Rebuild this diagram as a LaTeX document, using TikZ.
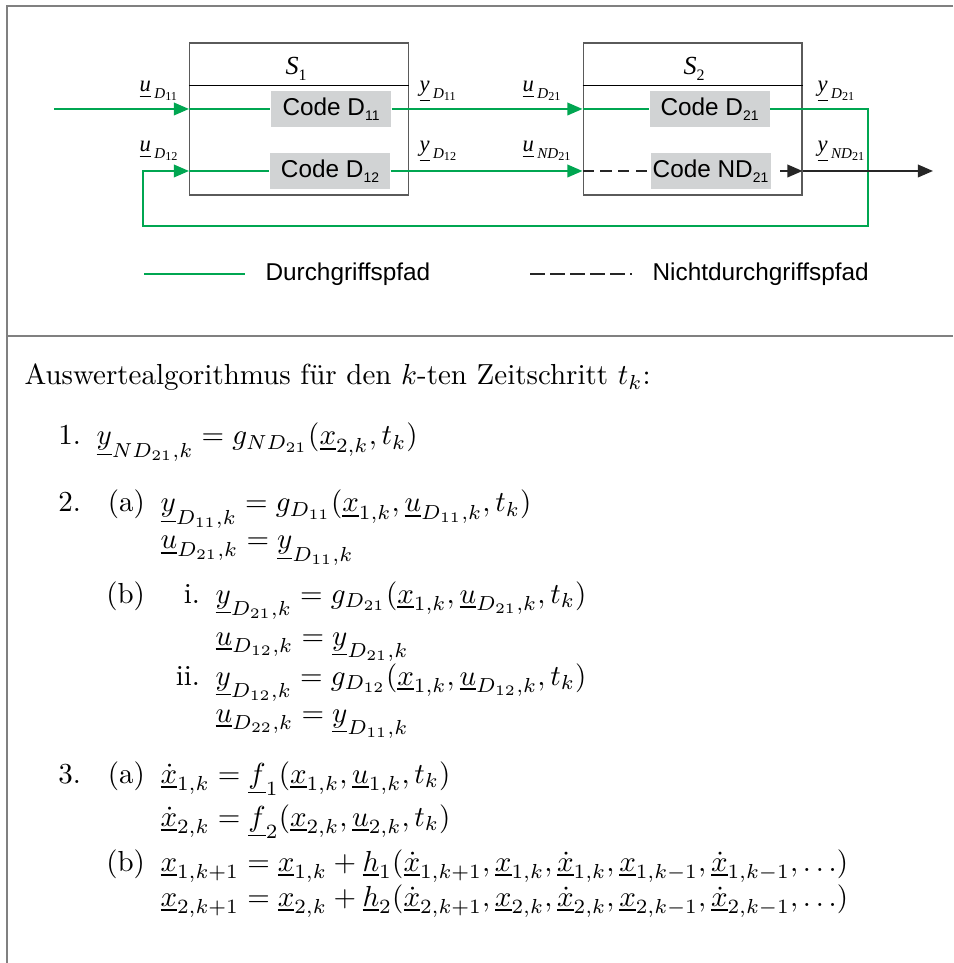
\documentclass[tikz,border=0pt]{standalone}
\usepackage{amsmath}
\usepackage{fontspec}
\newfontfamily\arialf{Liberation Sans}
\newfontfamily\timesf{Liberation Serif}
\usepackage{xcolor}
\usetikzlibrary{arrows.meta}
\definecolor{pfadgruen}{RGB}{0,166,81}
\definecolor{codegrau}{RGB}{209,211,212}
\definecolor{rahmengrau}{RGB}{128,128,128}
\definecolor{boxgrau}{RGB}{90,90,90}
\newcommand{\sig}[3]{{\timesf\fontsize{7.8}{9}\selectfont\itshape\underline{#1}\hspace{1.2pt}\raisebox{-2.3pt}{\fontsize{5.2}{6}\selectfont #2\raisebox{-0.6pt}{\fontsize{4.2}{5}\selectfont\upshape #3}}}}
\newcommand{\codetxt}[2]{Code #1\raisebox{-1.7pt}{\fontsize{4.8}{5}\selectfont #2}}
\newcommand{\syslab}[1]{{\timesf\fontsize{9}{10}\selectfont\itshape S\raisebox{-2pt}{\fontsize{5.5}{6}\selectfont\upshape #1}}}
\tikzset{
    sysbox/.style={draw=boxgrau, line width=0.5pt, minimum width=75.4pt, minimum height=52.4pt, inner sep=0pt},
    codebox/.style={fill=codegrau, minimum width=41.4pt, minimum height=12.2pt, inner sep=0pt, font=\arialf\fontsize{8.4}{10}\selectfont},
    pfad/.style={pfadgruen, line width=0.7pt},
    ndpfad/.style={black!85, line width=0.7pt},
    pfeil/.style={-{Triangle[length=5.2pt,width=4.3pt]}},
    sig label/.style={anchor=base west, inner sep=0pt},
    legtext/.style={anchor=base west, inner sep=0pt, font=\arialf\fontsize{8.4}{10}\selectfont},
    eq/.style={anchor=base west, inner sep=0pt},
    nr/.style={anchor=base east, inner sep=0pt}
}

\begin{document}
\begin{tikzpicture}[x=0.345pt, y=-0.345pt]
    \useasboundingbox (0,0) rectangle (953,963);

    % Rahmen
    \draw[rahmengrau, line width=0.7pt] (953,6) -- (7,6) -- (7,963);
    \draw[rahmengrau, line width=0.7pt] (7,336) -- (953,336);

    % Teilsysteme
    \node[sysbox] (S1) at (299,119) {};
    \node[sysbox] (S2) at (692.5,119) {};
    \draw[line width=0.4pt] ([yshift=-14.8pt]S1.north west) -- ([yshift=-14.8pt]S1.north east);
    \draw[line width=0.4pt] ([yshift=-14.8pt]S2.north west) -- ([yshift=-14.8pt]S2.north east);
    \node[sig label] (s1lab) at (285,75) {\syslab{1}};
    \node[sig label] (s2lab) at (683,75) {\syslab{2}};

    % Codebausteine
    \node[codebox] (c11) at (331,109) {\codetxt{D}{11}};
    \node[codebox] (c12) at (330,171) {\codetxt{D}{12}};
    \node[codebox] (c21) at (709.5,109) {\codetxt{D}{21}};
    \node[codebox] (c22) at (710.5,171) {\codetxt{ND}{21}};

    \coordinate (ein) at (54,109);
    \coordinate (r1) at (868,226);
    \coordinate (r2) at (143,226);
    \coordinate (aus) at (933,171);

    % Durchgriffspfade
    \draw[pfad, pfeil] (ein) -- (S1.west |- ein);
    \draw[pfad] (S1.west |- ein) -- (c11);
    \draw[pfad, pfeil] (c11) -- (S2.west |- c11);
    \draw[pfad] (S2.west |- c21) -- (c21);
    \draw[pfad, pfeil] (c21) -| (r1) -- (r2) |- (S1.west |- c12);
    \draw[pfad] (S1.west |- c12) -- (c12);
    \draw[pfad, pfeil] (c12) -- (S2.west |- c12);

    % Nichtdurchgriffspfad
    \draw[ndpfad, dash pattern=on 3.8pt off 2.4pt] (S2.west |- c22) -- (c22);
    \draw[ndpfad, pfeil] ([xshift=3.1pt]c22.east) -- (S2.east |- c22);
    \draw[ndpfad, pfeil] (S2.east |- c22) -- (aus);

    % Signale
    \node[sig label] (lu11) at (139,92) {\sig{u}{D}{11}};
    \node[sig label] (lu12) at (139,152) {\sig{u}{D}{12}};
    \node[sig label] (ly11) at (419,92) {\sig{y}{D}{11}};
    \node[sig label] (ly12) at (419,152) {\sig{y}{D}{12}};
    \node[sig label] (lu21) at (522,92) {\sig{u}{D}{21}};
    \node[sig label] (lund) at (522,152) {\sig{u}{ND}{21}};
    \node[sig label] (ly21) at (817,92) {\sig{y}{D}{21}};
    \node[sig label] (lynd) at (817,152) {\sig{y}{ND}{21}};

    % Legende
    \coordinate (lg1) at (144,274);
    \coordinate (lg2) at (245,274);
    \coordinate (lg3) at (530,274);
    \coordinate (lg4) at (632,274);
    \draw[pfad] (lg1) -- (lg2);
    \node[legtext] (lgt1) at (265,281) {Durchgriffspfad};
    \draw[ndpfad, dash pattern=on 5.2pt off 1.7pt] (lg3) -- (lg4);
    \node[legtext] (lgt2) at (652,281) {Nichtdurchgriffspfad};

    % Auswertealgorithmus
    \node[eq] (titel) at (24,385) {Auswertealgorithmus f\"ur den $k$-ten Zeitschritt $t_k$:};

    \node[nr] (n1) at (81.5,445) {1.};
    \node[eq] (e1) at (96,445) {$\underline{y}_{ND_{21},k} = g_{ND_{21}}(\underline{x}_{2,k},t_k)$};

    \node[nr] (n2) at (81.5,512) {2.};
    \node[nr] (n2a) at (145.5,512) {(a)};
    \node[eq] (e2a1) at (160,512) {$\underline{y}_{D_{11},k} = g_{D_{11}}(\underline{x}_{1,k},\underline{u}_{D_{11},k},t_k)$};
    \node[eq] (e2a2) at (160,549) {$\underline{u}_{D_{21},k} = \underline{y}_{D_{11},k}$};
    \node[nr] (n2b) at (145.5,603) {(b)};
    \node[nr] (n2bi) at (200.5,603) {i.};
    \node[eq] (e2bi1) at (215,603) {$\underline{y}_{D_{21},k} = g_{D_{21}}(\underline{x}_{1,k},\underline{u}_{D_{21},k},t_k)$};
    \node[eq] (e2bi2) at (215,645) {$\underline{u}_{D_{12},k} = \underline{y}_{D_{21},k}$};
    \node[nr] (n2bii) at (200.5,685) {ii.};
    \node[eq] (e2bii1) at (215,685) {$\underline{y}_{D_{12},k} = g_{D_{12}}(\underline{x}_{1,k},\underline{u}_{D_{12},k},t_k)$};
    \node[eq] (e2bii2) at (215,722) {$\underline{u}_{D_{22},k} = \underline{y}_{D_{11},k}$};

    \node[nr] (n3) at (81.5,783) {3.};
    \node[nr] (n3a) at (145.5,783) {(a)};
    \node[eq] (e3a1) at (160,783) {$\underline{\dot{x}}_{1,k} = \underline{f}_1(\underline{x}_{1,k},\underline{u}_{1,k},t_k)$};
    \node[eq] (e3a2) at (160,826) {$\underline{\dot{x}}_{2,k} = \underline{f}_2(\underline{x}_{2,k},\underline{u}_{2,k},t_k)$};
    \node[nr] (n3b) at (145.5,871) {(b)};
    \node[eq] (e3b1) at (160,871) {$\underline{x}_{1,k+1} = \underline{x}_{1,k} + \underline{h}_1(\underline{\dot{x}}_{1,k+1},\underline{x}_{1,k},\underline{\dot{x}}_{1,k},\underline{x}_{1,k-1},\underline{\dot{x}}_{1,k-1},\ldots)$};
    \node[eq] (e3b2) at (160,906) {$\underline{x}_{2,k+1} = \underline{x}_{2,k} + \underline{h}_2(\underline{\dot{x}}_{2,k+1},\underline{x}_{2,k},\underline{\dot{x}}_{2,k},\underline{x}_{2,k-1},\underline{\dot{x}}_{2,k-1},\ldots)$};
\end{tikzpicture}
\end{document}
